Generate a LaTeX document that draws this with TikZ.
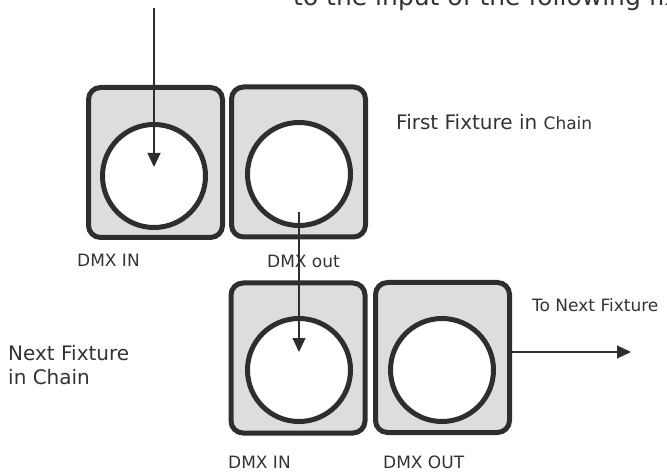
\documentclass[tikz,border=0pt]{standalone}
\usepackage{fontspec}
\setmainfont{DejaVu Sans}
\usetikzlibrary{arrows.meta}
\definecolor{ink}{HTML}{2E2E2E}
\definecolor{panel}{HTML}{DDDDDD}
\definecolor{txt}{HTML}{333333}
\begin{document}
\begin{tikzpicture}[x=1pt,y=-1pt,
  fixbox/.style={draw=ink, line width=5pt, fill=panel, rounded corners=12pt,
    minimum width=134pt, minimum height=150pt, inner sep=0pt},
  port/.style={circle, draw=ink, line width=5pt, fill=white,
    minimum size=103pt, inner sep=0pt},
  lbl/.style={anchor=base west, inner sep=0pt, text=txt,
    font=\fontsize{17}{20}\selectfont},
  big/.style={font=\fontsize{20}{24}\selectfont},
  flow/.style={draw=ink, line width=1.2pt, -{Triangle[length=14pt,width=13pt]}}
]
\useasboundingbox (0,0) rectangle (667,473);
\clip (0,0) rectangle (667,473);
% fixtures
\node[fixbox] (b1) at (155.5,162.5) {};
\node[fixbox] (b2) at (298.5,162) {};
\node[fixbox] (b3) at (298,358) {};
\node[fixbox] (b4) at (442.5,357.5) {};
\node[port] (c1) at (154,176) {};
\node[port] (c2) at (299,174) {};
\node[port] (c3) at (299,370) {};
\node[port] (c4) at (442,370) {};
% connectors
\coordinate (src) at (154,8);
\coordinate (next) at (631,352);
\draw[flow] (src) -- ([yshift=9pt]c1.center);
\draw[flow] ([yshift=-38pt]c2.center) -- ([yshift=18pt]c3.center);
\draw[flow] (b4.east |- next) -- (next);
% labels
\node[lbl, font=\fontsize{25}{30}\selectfont] (toptext) at (293,6) {to the input of the following fixture};
\node[lbl, big] (first) at (396,130) {First Fixture in {\fontsize{17}{20}\selectfont Chain}};
\node[lbl] (in1) at (77,266) {DMX IN};
\node[lbl] (out1) at (267,268) {DMX out};
\node[lbl] (tonext) at (532,311) {To Next Fixture};
\node[lbl, big] (nextfix) at (8,360) {Next Fixture};
\node[lbl, big] (inchain) at (8,384) {in Chain};
\node[lbl] (in2) at (228,468) {DMX IN};
\node[lbl] (out2) at (383,468) {DMX OUT};
\end{tikzpicture}
\end{document}
